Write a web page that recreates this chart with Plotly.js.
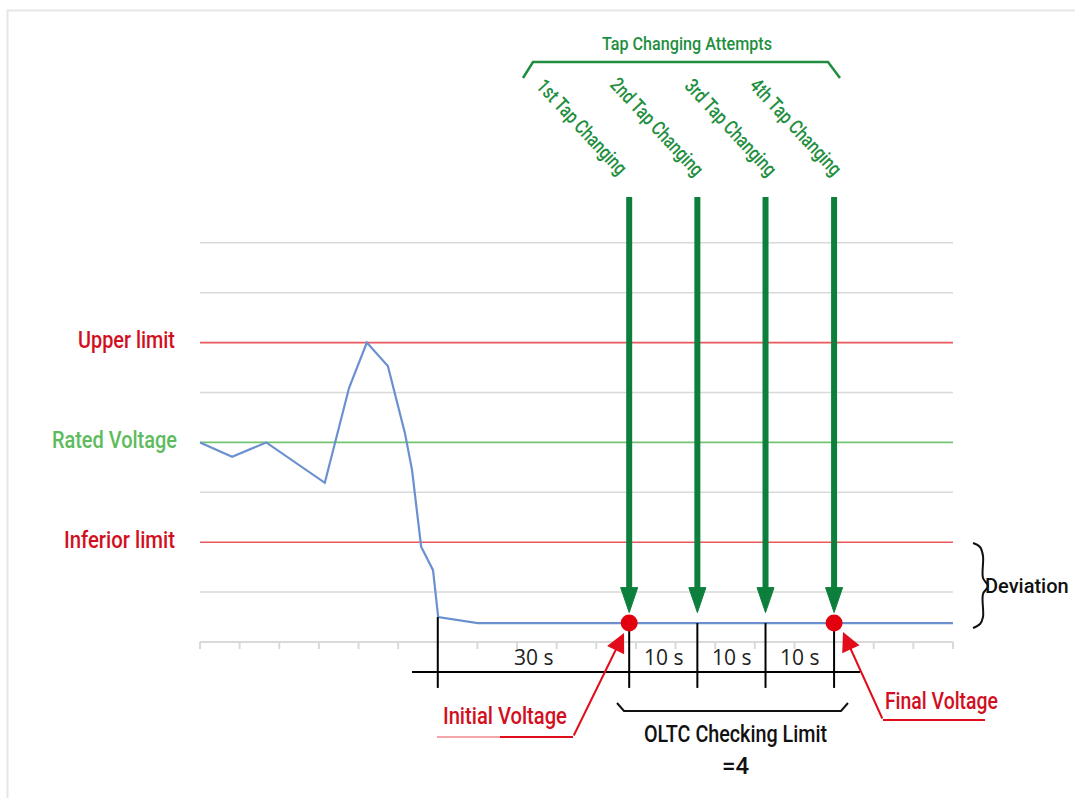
<!DOCTYPE html>
<html>
<head>
<meta charset="utf-8">
<script src="https://cdn.plot.ly/plotly-3.0.1.min.js"></script>
<style>html,body{margin:0;padding:0;background:#fff;}#chart{width:1075px;height:798px;}</style>
</head>
<body>
<div id="chart"></div>
<script>
// ---------- DATA ----------
const timeX   = [0, 0.81, 1.67, 3.15, 3.76, 4.21, 4.74, 5.17, 5.35, 5.58, 5.88, 6.01, 7.01, 19];
const voltage = [4.0, 3.71, 4.0, 3.19, 5.09, 6.0, 5.53, 4.19, 3.45, 1.91, 1.44, 0.5, 0.38, 0.38];
const gridLevels = [1, 3, 5, 7, 8];
const limitNames  = ["Upper limit", "Rated Voltage", "Inferior limit"];
const limitValues = [6, 4, 2];
const tapX = [10.83, 12.55, 14.27, 16.0];
const tapLabels = ["1st Tap Changing", "2nd Tap Changing", "3rd Tap Changing", "4th Tap Changing"];
const timelineMarks = [6.0, 10.83, 12.55, 14.27, 16.0];
const intervalLabels = ["30 s", "10 s", "10 s", "10 s"];
const finalVoltage = 0.38;
const xTickCount = 19;

// ---------- SCALE HELPERS (pixel -> data) ----------
const X0 = 200, XU = 39.63, Y0 = 642, YU = 49.9, W = 1075, H = 798;
const px = p => (p - X0) / XU;
const py = p => (Y0 - p) / YU;

const FONT = "Roboto, Liberation Sans, sans-serif";
const RED_T = "#d20f1e", RED_L = "#e8585c", GREEN_L = "#74c474", GREEN_T = "#5dbb5d";
const DKGREEN = "#0d7f3c", BLUE = "#6b90d0", GRID = "#d9d9d9";

// narrow-text widths (condensed look)
const textWidths = {
  "Upper limit": 97, "Rated Voltage": 125, "Inferior limit": 111,
  "Tap Changing Attempts": 170, "Initial Voltage": 124, "Final Voltage": 113,
  "OLTC Checking Limit": 183,
  "1st Tap Changing": 122, "2nd Tap Changing": 126, "3rd Tap Changing": 124, "4th Tap Changing": 124
};

const traces = [];
function line(xs, ys, color, width, extra) {
  traces.push(Object.assign({type: "scatter", mode: "lines", x: xs, y: ys,
    line: {color: color, width: width}, hoverinfo: "skip"}, extra || {}));
}

// gridlines
let gx = [], gy = [];
gridLevels.forEach(g => { gx.push(0, xTickCount, null); gy.push(g, g, null); });
line(gx, gy, GRID, 1.5);
// baseline + ticks
let bx = [0, xTickCount, null], by = [0, 0, null];
for (let i = 0; i <= xTickCount; i++) { bx.push(i, i, null); by.push(0, -0.14, null); }
line(bx, by, GRID, 2);
// limit lines
limitValues.forEach((v, i) => line([0, xTickCount], [v, v], i === 1 ? GREEN_L : RED_L, 1.6));
// voltage curve
line(timeX, voltage, BLUE, 2.2);
// timeline
let tx = [px(412), px(860), null], ty = [-0.6, -0.6, null];
timelineMarks.forEach((m, i) => { tx.push(m, m, null); ty.push(i === 0 ? 0.5 : finalVoltage, -0.92, null); });
line(tx, ty, "#000", 2);
// green arrows
tapX.forEach(x => {
  line([x, x], [py(197), 1.04], DKGREEN, 6);
  traces.push({type: "scatter", mode: "lines", x: [x - 0.215, x + 0.215, x, x - 0.215],
    y: [1.09, 1.09, 0.59, 1.09], fill: "toself", fillcolor: DKGREEN, line: {color: DKGREEN, width: 1}, hoverinfo: "skip"});
});
// red dots
traces.push({type: "scatter", mode: "markers", x: [tapX[0], tapX[3]], y: [finalVoltage, finalVoltage],
  marker: {color: "#e2000f", size: 17}, hoverinfo: "skip"});
// top brace (green)
line([px(523), px(533), px(828), px(840)], [py(78), py(62), py(62), py(78)], "#1f8f3f", 2.5);
// bottom brace (black)
line([px(617), px(624), px(841), px(848)], [py(703), py(711), py(711), py(703)], "#111", 2);
// deviation brace
line([px(973), px(980), px(983), px(983), px(988), px(983), px(983), px(980), px(973)],
     [py(543), py(547), py(556), py(578), py(586), py(594), py(617), py(624), py(628)], "#111", 2,
     {line: {color: "#111", width: 2, shape: "spline"}});
// red underlines
line([px(437), px(500)], [py(737), py(737)], "#f3a5a8", 2);
line([px(500), px(573)], [py(737), py(737)], "#e10d1b", 2);
line([px(883), px(985)], [py(720), py(720)], "#e10d1b", 2);

// ---------- ANNOTATIONS ----------
const ann = [];
function txt(text, x, y, size, color, opts) {
  const a = {text: text, x: x, y: y, xref: "x", yref: "y", showarrow: false,
    font: {family: FONT, size: size, color: color, weight: 500}};
  if (textWidths[text]) a.width = textWidths[text];
  ann.push(Object.assign(a, opts || {}));
}
const limitCenters = [126.5, 114.5, 119.5];
limitNames.forEach((n, i) => txt(n, px(limitCenters[i]), limitValues[i] + 0.05, 24, i === 1 ? GREEN_T : RED_T));
txt("Tap Changing Attempts", px(687), py(43), 18, "#1f8f3f");
const tapLabelShift = [-47, -40, -35, -38];
tapX.forEach((x, i) => txt(tapLabels[i], x + tapLabelShift[i] / XU, py(127), 20, "#1f8f3f", {textangle: 47}));
intervalLabels.forEach((t, i) => txt(t, (timelineMarks[i] + timelineMarks[i + 1]) / 2, py(657), 21, "#222",
  {font: {family: "Open Sans, DejaVu Sans, sans-serif", size: 21, color: "#222"}}));
txt("OLTC Checking Limit", px(735), py(734), 24, "#111");
txt("=4", px(736), py(766), 24, "#111");
txt("Initial Voltage", px(505), py(716), 24, RED_T);
txt("Final Voltage", px(941), py(701), 24, RED_T);
txt("Deviation", px(1027), py(586), 20, "#111");
// red arrows
ann.push({text: "", x: px(624), y: py(633), ax: px(573), ay: py(737), xref: "x", yref: "y", axref: "x", ayref: "y",
  showarrow: true, arrowhead: 2, arrowwidth: 2, arrowsize: 1.9, arrowcolor: "#e10d1b"});
ann.push({text: "", x: px(843), y: py(632), ax: px(883), ay: py(720), xref: "x", yref: "y", axref: "x", ayref: "y",
  showarrow: true, arrowhead: 2, arrowwidth: 2, arrowsize: 1.9, arrowcolor: "#e10d1b"});

const layout = {
  width: W, height: H, margin: {l: 0, r: 0, t: 0, b: 0},
  paper_bgcolor: "#fff", plot_bgcolor: "#fff", showlegend: false,
  xaxis: {range: [px(0), px(W)], visible: false, fixedrange: true},
  yaxis: {range: [py(H), py(0)], visible: false, fixedrange: true},
  annotations: ann,
  shapes: [
    {type: "line", xref: "paper", yref: "paper", x0: 7 / W, x1: 1, y0: 1 - 10.5 / H, y1: 1 - 10.5 / H, line: {color: "#e6e6e6", width: 2}},
    {type: "line", xref: "paper", yref: "paper", x0: 7.5 / W, x1: 7.5 / W, y0: 0, y1: 1 - 10 / H, line: {color: "#e6e6e6", width: 2}}
  ]
};
Plotly.newPlot("chart", traces, layout, {displayModeBar: false, staticPlot: true}).then(() => {
  document.querySelectorAll("#chart .annotation-text").forEach(t => {
    const w = textWidths[t.textContent];
    if (w) {
      t.setAttribute("textLength", w);
      t.setAttribute("lengthAdjust", "spacingAndGlyphs");
    }
  });
});
</script>
</body>
</html>
